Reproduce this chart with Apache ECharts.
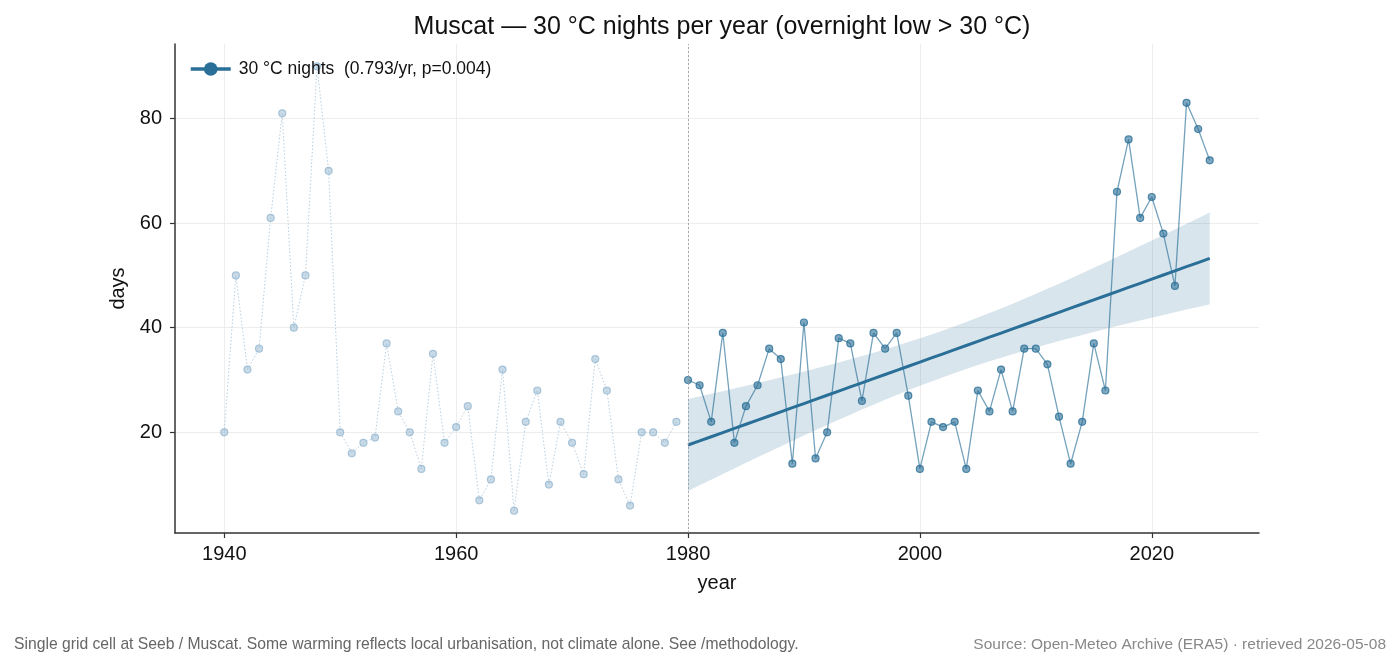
<!DOCTYPE html>
<html>
<head>
<meta charset="utf-8">
<title>Muscat 30 °C nights</title>
<script src="https://cdn.jsdelivr.net/npm/echarts@6/dist/echarts.min.js"></script>
<style>
  html, body { margin: 0; padding: 0; background: #fff; }
  #chart { width: 1400px; height: 667px; }
</style>
</head>
<body>
<div id="chart"></div>
<script>
// yearly counts of nights with the low above 30 °C
const earlyYears = [1940, 1941, 1942, 1943, 1944, 1945, 1946, 1947, 1948, 1949,
  1950, 1951, 1952, 1953, 1954, 1955, 1956, 1957, 1958, 1959,
  1960, 1961, 1962, 1963, 1964, 1965, 1966, 1967, 1968, 1969,
  1970, 1971, 1972, 1973, 1974, 1975, 1976, 1977, 1978, 1979];
const earlyNights = [20, 50, 32, 36, 61, 81, 40, 50, 90, 70,
  20, 16, 18, 19, 37, 24, 20, 13, 35, 18,
  21, 25, 7, 11, 32, 5, 22, 28, 10, 22,
  18, 12, 34, 28, 11, 6, 20, 20, 18, 22];

const lateYears = [1980, 1981, 1982, 1983, 1984, 1985, 1986, 1987, 1988, 1989,
  1990, 1991, 1992, 1993, 1994, 1995, 1996, 1997, 1998, 1999,
  2000, 2001, 2002, 2003, 2004, 2005, 2006, 2007, 2008, 2009,
  2010, 2011, 2012, 2013, 2014, 2015, 2016, 2017, 2018, 2019,
  2020, 2021, 2022, 2023, 2024, 2025];
const lateNights = [30, 29, 22, 39, 18, 25, 29, 36, 34, 14,
  41, 15, 20, 38, 37, 26, 39, 36, 39, 27,
  13, 22, 21, 22, 13, 28, 24, 32, 24, 36,
  36, 33, 23, 14, 22, 37, 28, 66, 76, 61,
  65, 58, 48, 83, 78, 72];

const xTicks = [1940, 1960, 1980, 2000, 2020];
const yTicks = [20, 40, 60, 80];
const splitYear = 1980;

const legendLabel = '30 °C nights  (0.793/yr, p=0.004)';
const titleText = 'Muscat — 30 °C nights per year (overnight low > 30 °C)';
const noteLeft = 'Single grid cell at Seeb / Muscat. Some warming reflects local urbanisation, not climate alone. See /methodology.';
const noteRight = 'Source: Open-Meteo Archive (ERA5) · retrieved 2026-05-08';

const blue = '#2a6f97';
const font = '"Liberation Sans", Arial, Helvetica, sans-serif';

// least squares fit on 1980 onwards, with 95% band of the mean
function fitTrend(xs, ys) {
  let n = xs.length;
  let mx = xs.reduce((a, b) => a + b, 0) / n;
  let my = ys.reduce((a, b) => a + b, 0) / n;
  let sxx = 0, sxy = 0;
  for (let i = 0; i < n; i++) {
    sxx += (xs[i] - mx) * (xs[i] - mx);
    sxy += (xs[i] - mx) * (ys[i] - my);
  }
  let slope = sxy / sxx;
  let icpt = my - slope * mx;
  let sse = 0;
  for (let i = 0; i < n; i++) {
    let r = ys[i] - (icpt + slope * xs[i]);
    sse += r * r;
  }
  let s = Math.sqrt(sse / (n - 2));
  let t = 2.015;
  let line = [], lower = [], upper = [];
  xs.forEach(x => {
    let yh = icpt + slope * x;
    let half = t * s * Math.sqrt(1 / n + (x - mx) * (x - mx) / sxx);
    line.push([x, yh]);
    lower.push([x, yh - half]);
    upper.push([x, yh + half]);
  });
  return { line, lower, upper };
}

const trend = fitTrend(lateYears, lateNights);

const earlyData = earlyYears.map((y, i) => [y, earlyNights[i]]);
const lateData = lateYears.map((y, i) => [y, lateNights[i]]);
const bandPoly = trend.lower.concat(trend.upper.slice().reverse());

var chart = echarts.init(document.getElementById('chart'), null, { renderer: 'canvas' });

var option = {
  animation: false,
  backgroundColor: '#fff',
  textStyle: { fontFamily: font },
  title: {
    text: titleText,
    left: 717,
    textAlign: 'center',
    top: 10,
    textStyle: { fontFamily: font, fontSize: 25, fontWeight: 'normal', color: '#111' }
  },
  grid: { left: 175, right: 141, top: 44, bottom: 134 },
  legend: {
    left: 184,
    top: 55,
    itemWidth: 40,
    itemHeight: 17,
    itemGap: 10,
    data: [legendLabel],
    textStyle: { fontFamily: font, fontSize: 17.5, color: '#111', padding: [0, 0, 0, 3] },
    itemStyle: { color: blue, opacity: 1, borderWidth: 0 },
    lineStyle: { color: blue, width: 3.5, opacity: 1 }
  },
  xAxis: {
    type: 'value',
    min: 1935.75,
    max: 2029.25,
    name: 'year',
    nameLocation: 'middle',
    nameGap: 40,
    nameTextStyle: { fontFamily: font, fontSize: 20, color: '#111' },
    axisLine: { show: true, lineStyle: { color: '#333', width: 1.5 } },
    axisTick: { show: true, customValues: xTicks, length: 5, lineStyle: { color: '#333', width: 1.2 } },
    axisLabel: {
      customValues: xTicks, fontFamily: font, fontSize: 20, color: '#111', margin: 11,
      formatter: v => String(v)
    },
    splitLine: { show: true, lineStyle: { color: '#e8e8e8', width: 0.8 } }
  },
  yAxis: {
    type: 'value',
    min: 0.75,
    max: 94.25,
    name: 'days',
    nameLocation: 'middle',
    nameGap: 46,
    nameTextStyle: { fontFamily: font, fontSize: 20, color: '#111' },
    axisLine: { show: true, lineStyle: { color: '#333', width: 1.5 } },
    axisTick: { show: true, customValues: yTicks, length: 5, lineStyle: { color: '#333', width: 1.2 } },
    axisLabel: { customValues: yTicks, fontFamily: font, fontSize: 20, color: '#111', margin: 13 },
    splitLine: { show: true, lineStyle: { color: '#e8e8e8', width: 0.8 } }
  },
  series: [
    {
      type: 'custom',
      name: 'band',
      silent: true,
      z: 1,
      data: [0],
      renderItem: function (params, api) {
        let pts = bandPoly.map(p => api.coord(p));
        return {
          type: 'polygon',
          shape: { points: pts },
          style: { fill: blue, opacity: 0.18 }
        };
      }
    },
    {
      type: 'line',
      name: 'split',
      data: [],
      silent: true,
      markLine: {
        silent: true,
        symbol: 'none',
        label: { show: false },
        lineStyle: { color: '#999', type: [2, 2], width: 0.8 },
        data: [{ xAxis: splitYear }]
      }
    },
    {
      type: 'line',
      name: 'early',
      data: earlyData,
      z: 2,
      symbol: 'circle',
      symbolSize: 7,
      lineStyle: { color: '#b7cfe0', width: 1, type: [1.5, 2] },
      itemStyle: { color: 'rgba(150,184,210,0.5)', borderColor: 'rgba(140,176,204,0.7)', borderWidth: 1.2 }
    },
    {
      type: 'line',
      name: legendLabel,
      data: lateData,
      z: 3,
      symbol: 'circle',
      symbolSize: 7,
      lineStyle: { color: blue, width: 1.3, opacity: 0.65 },
      itemStyle: { color: 'rgba(42,111,151,0.6)', borderColor: 'rgba(42,111,151,0.8)', borderWidth: 1.2 }
    },
    {
      type: 'line',
      name: 'trend',
      data: trend.line,
      z: 4,
      symbol: 'none',
      lineStyle: { color: blue, width: 3 }
    }
  ],
  graphic: [
    {
      type: 'text',
      left: 14,
      top: 637,
      style: { text: noteLeft, font: '15.7px ' + font, fill: '#666' }
    },
    {
      type: 'text',
      right: 14,
      top: 637,
      style: { text: noteRight, font: '15.5px ' + font, fill: '#888' }
    }
  ]
};

chart.setOption(option);
</script>
</body>
</html>
